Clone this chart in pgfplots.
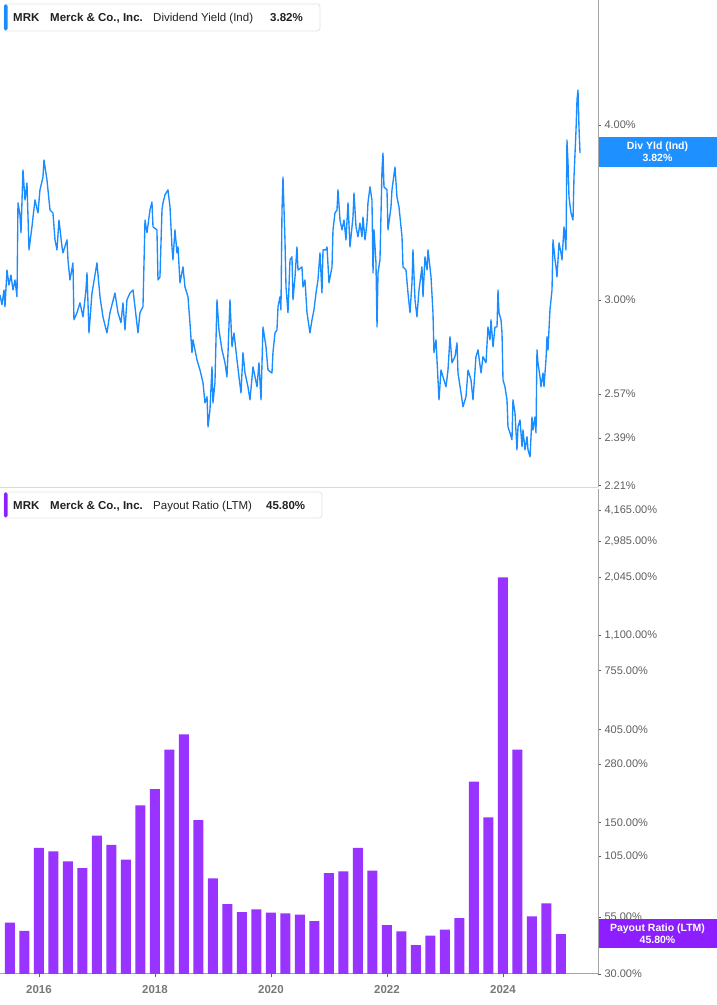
\documentclass[border=0pt]{standalone}
\usepackage{pgfplots}
\pgfplotsset{compat=1.18}
\usepackage{fontspec}
\setmainfont{Liberation Sans}
\definecolor{lineblue}{RGB}{26,140,255}
\definecolor{badgeblue}{RGB}{30,144,255}
\definecolor{barpurple}{RGB}{153,51,255}
\definecolor{badgepurple}{RGB}{140,30,255}
\definecolor{axgray}{RGB}{165,165,165}
\definecolor{tickgray}{RGB}{95,95,95}
\definecolor{yeargray}{RGB}{120,120,120}
\definecolor{txt}{RGB}{34,34,34}

\pgfplotstableread{
x y
2015.328 3.024
2015.362 2.976
2015.397 3.049
2015.414 2.966
2015.448 3.151
2015.483 3.074
2015.517 3.125
2015.552 3.049
2015.586 3.100
2015.621 3.015
2015.638 3.519
2015.672 3.450
2015.690 3.350
2015.724 3.715
2015.759 3.536
2015.793 3.636
2015.828 3.257
2015.879 3.383
2015.931 3.536
2015.983 3.461
2016.017 3.595
2016.069 3.672
2016.086 3.776
2016.138 3.654
2016.190 3.478
2016.241 3.461
2016.276 3.311
2016.310 3.257
2016.345 3.421
2016.397 3.273
2016.414 3.241
2016.483 3.311
2016.500 3.204
2016.534 3.100
2016.586 3.188
2016.603 2.903
2016.655 2.937
2016.707 2.985
2016.759 2.917
2016.810 3.049
2016.828 3.136
2016.862 2.841
2016.914 3.034
2017.000 3.188
2017.052 3.015
2017.103 2.917
2017.172 2.841
2017.224 2.937
2017.310 3.034
2017.362 2.937
2017.414 2.889
2017.448 2.985
2017.483 2.855
2017.517 3.000
2017.569 3.034
2017.621 3.049
2017.655 2.966
2017.707 2.841
2017.741 2.937
2017.793 2.966
2017.828 3.421
2017.862 3.350
2017.914 3.478
2017.948 3.524
2017.966 3.383
2018.034 3.366
2018.052 3.100
2018.086 3.115
2018.121 3.478
2018.138 3.519
2018.172 3.565
2018.224 3.595
2018.259 3.495
2018.293 3.273
2018.310 3.204
2018.345 3.366
2018.379 3.241
2018.397 3.273
2018.431 3.085
2018.483 3.167
2018.517 3.064
2018.569 3.015
2018.603 2.889
2018.638 2.750
2018.655 2.809
2018.724 2.718
2018.776 2.673
2018.828 2.617
2018.862 2.532
2018.897 2.558
2018.914 2.434
2018.948 2.503
2018.983 2.687
2019.000 2.532
2019.034 2.617
2019.069 3.000
2019.103 2.855
2019.155 2.763
2019.207 2.705
2019.241 2.643
2019.259 2.750
2019.293 3.000
2019.328 2.777
2019.362 2.841
2019.414 2.718
2019.448 2.643
2019.483 2.574
2019.517 2.750
2019.552 2.660
2019.603 2.600
2019.638 2.545
2019.690 2.687
2019.759 2.600
2019.793 2.705
2019.828 2.545
2019.862 2.869
2019.914 2.777
2019.948 2.673
2020.017 2.660
2020.034 2.750
2020.069 2.841
2020.103 2.855
2020.121 2.966
2020.155 3.015
2020.172 2.951
2020.190 3.478
2020.207 3.672
2020.241 3.311
2020.259 3.064
2020.293 2.937
2020.328 3.204
2020.362 3.220
2020.379 3.000
2020.414 3.115
2020.448 3.273
2020.466 3.151
2020.534 3.167
2020.552 3.064
2020.586 3.100
2020.621 2.937
2020.672 2.841
2020.707 2.903
2020.741 2.951
2020.776 3.034
2020.810 3.100
2020.845 3.241
2020.879 3.034
2020.897 3.257
2020.948 3.257
2020.966 3.273
2021.000 3.085
2021.052 3.167
2021.069 3.366
2021.103 3.461
2021.138 3.478
2021.155 3.595
2021.190 3.421
2021.224 3.366
2021.259 3.421
2021.293 3.311
2021.328 3.519
2021.362 3.273
2021.414 3.438
2021.431 3.577
2021.466 3.383
2021.500 3.328
2021.534 3.404
2021.569 3.328
2021.586 3.438
2021.621 3.311
2021.655 3.404
2021.672 3.519
2021.707 3.613
2021.741 3.536
2021.759 3.136
2021.776 3.366
2021.810 3.188
2021.828 2.869
2021.845 3.136
2021.879 3.204
2021.914 3.715
2021.931 3.820
2021.948 3.613
2022.000 3.595
2022.017 3.366
2022.069 3.495
2022.086 3.595
2022.138 3.733
2022.172 3.553
2022.207 3.495
2022.259 3.328
2022.276 3.167
2022.328 3.151
2022.362 3.034
2022.397 2.937
2022.431 3.085
2022.448 3.257
2022.483 3.000
2022.517 2.917
2022.552 3.049
2022.603 3.167
2022.621 3.015
2022.655 3.220
2022.690 3.151
2022.707 3.257
2022.759 3.115
2022.793 2.937
2022.810 2.750
2022.845 2.809
2022.862 2.718
2022.897 2.545
2022.931 2.673
2022.966 2.643
2023.017 2.600
2023.052 2.673
2023.086 2.823
2023.121 2.705
2023.172 2.732
2023.207 2.795
2023.224 2.660
2023.276 2.574
2023.310 2.516
2023.362 2.558
2023.397 2.673
2023.448 2.630
2023.483 2.545
2023.534 2.732
2023.569 2.763
2023.621 2.660
2023.655 2.732
2023.707 2.705
2023.741 2.869
2023.776 2.809
2023.793 2.903
2023.828 2.777
2023.862 2.869
2023.897 2.869
2023.914 3.049
2023.931 2.937
2023.966 2.903
2023.983 2.841
2024.000 2.630
2024.034 2.600
2024.069 2.545
2024.086 2.434
2024.121 2.410
2024.155 2.383
2024.172 2.545
2024.207 2.491
2024.241 2.344
2024.259 2.434
2024.293 2.462
2024.328 2.356
2024.345 2.422
2024.379 2.344
2024.414 2.395
2024.431 2.344
2024.466 2.317
2024.500 2.474
2024.517 2.422
2024.552 2.474
2024.569 2.410
2024.586 2.763
2024.603 2.705
2024.638 2.643
2024.655 2.600
2024.690 2.660
2024.707 2.600
2024.741 2.718
2024.759 2.823
2024.776 2.763
2024.810 2.951
2024.845 3.049
2024.862 3.311
2024.897 3.204
2024.914 3.167
2024.931 3.115
2024.966 3.295
2025.000 3.241
2025.017 3.204
2025.052 3.383
2025.086 3.257
2025.103 3.903
2025.121 3.758
2025.138 3.553
2025.172 3.461
2025.207 3.421
2025.224 3.672
2025.259 3.967
2025.276 4.168
2025.293 4.237
2025.310 3.987
2025.328 3.820
}\yieldtable

\pgfplotstableread{
x y
2015.50 51.8
2015.75 47.4
2016.00 114.6
2016.25 110.6
2016.50 99.5
2016.75 92.6
2017.00 130.6
2017.25 118.3
2017.50 101.2
2017.75 180.4
2018.00 214.6
2018.25 326
2018.50 384
2018.75 154.3
2019.00 83.0
2019.25 63.0
2019.50 58.0
2019.75 59.7
2020.00 57.6
2020.25 57.2
2020.50 56.4
2020.75 52.7
2021.00 87.8
2021.25 89.4
2021.50 114.6
2021.75 90.0
2022.00 50.4
2022.25 47.2
2022.50 40.8
2022.75 45.1
2023.00 48.1
2023.25 54.4
2023.50 232
2023.75 158.8
2024.00 2039
2024.25 326
2024.50 55.4
2024.75 63.6
2025.00 45.8
}\payouttable

\begin{document}
\begin{tikzpicture}
\useasboundingbox (0pt,0pt) rectangle (717pt,1005pt);
\fill[white] (0pt,0pt) rectangle (717pt,1005pt);

\begin{axis}[
  at={(0pt,1005pt)}, anchor=north west, scale only axis,
  width=598pt, height=487pt,
  xmin=2015.328, xmax=2025.638,
  ymode=log, ymin=2.205, ymax=4.913,
  axis x line*=bottom, axis y line*=right,
  x axis line style={-, draw=gray!30, line width=0.8pt},
  y axis line style={-, draw=axgray, line width=1pt},
  xtick=\empty,
  ytick={2.21,2.39,2.57,3,4},
  yticklabels={2.21\%,2.39\%,2.57\%,3.00\%,4.00\%},
  yminorticks=false,
  tick align=outside, major tick length=3pt,
  tick style={draw=tickgray, line width=0.6pt},
  yticklabel style={font=\fontsize{11}{13}\selectfont, text=tickgray},
  clip=true,
]
\addplot[lineblue, line width=1.35pt, line join=round] table[x=x, y=y] {\yieldtable};
\end{axis}

\begin{axis}[
  at={(0pt,516pt)}, anchor=north west, scale only axis,
  width=598pt, height=485pt,
  xmin=2015.328, xmax=2025.638,
  ymode=log, ymin=30, ymax=5217,
  axis x line*=bottom, axis y line*=right,
  x axis line style={-, draw=axgray, line width=1pt},
  y axis line style={-, draw=axgray, line width=1pt},
  xtick={2016,2018,2020,2022,2024},
  xticklabels={2016,2018,2020,2022,2024},
  xticklabel style={font=\bfseries\fontsize{11.5}{13}\selectfont, text=yeargray, yshift=-5pt},
  ytick={30,45,55,105,150,280,405,755,1100,2045,2985,4165},
  yticklabels={30.00\%,{},55.00\%,105.00\%,150.00\%,280.00\%,405.00\%,755.00\%,{1,100.00\%},{2,045.00\%},{2,985.00\%},{4,165.00\%}},
  yminorticks=false,
  tick align=outside, major tick length=3pt,
  tick style={draw=tickgray, line width=0.6pt},
  yticklabel style={font=\fontsize{11}{13}\selectfont, text=tickgray},
  ybar, bar width=10pt,
  clip=true,
]
\addplot[fill=barpurple, draw=none] table[x=x, y=y] {\payouttable};
\end{axis}

% legends
\draw[gray!22, fill=white, rounded corners=3pt, line width=0.8pt] (4pt,974pt) rectangle (320pt,1001pt);
\fill[lineblue, rounded corners=1.5pt] (4pt,974.5pt) rectangle (7.5pt,1000.5pt);
\node[anchor=base west, inner sep=0pt, font=\bfseries\fontsize{11.5}{13}\selectfont, text=txt] at (13pt,983pt) {MRK};
\node[anchor=base west, inner sep=0pt, font=\bfseries\fontsize{11.5}{13}\selectfont, text=txt] at (50pt,983pt) {Merck \& Co., Inc.};
\node[anchor=base west, inner sep=0pt, font=\fontsize{11.5}{13}\selectfont, text=txt] at (153pt,983pt) {Dividend Yield (Ind)};
\node[anchor=base west, inner sep=0pt, font=\bfseries\fontsize{11.5}{13}\selectfont, text=txt] at (270pt,983pt) {3.82\%};

\draw[gray!22, fill=white, rounded corners=3pt, line width=0.8pt] (4pt,487pt) rectangle (322pt,513pt);
\fill[badgepurple, rounded corners=1.5pt] (4pt,487.5pt) rectangle (7.5pt,512.5pt);
\node[anchor=base west, inner sep=0pt, font=\bfseries\fontsize{11.5}{13}\selectfont, text=txt] at (13pt,495.5pt) {MRK};
\node[anchor=base west, inner sep=0pt, font=\bfseries\fontsize{11.5}{13}\selectfont, text=txt] at (50pt,495.5pt) {Merck \& Co., Inc.};
\node[anchor=base west, inner sep=0pt, font=\fontsize{11.5}{13}\selectfont, text=txt] at (153pt,495.5pt) {Payout Ratio (LTM)};
\node[anchor=base west, inner sep=0pt, font=\bfseries\fontsize{11.5}{13}\selectfont, text=txt] at (266pt,495.5pt) {45.80\%};

% badges
\fill[badgeblue] (598.5pt,838pt) rectangle (717pt,868pt);
\node[anchor=center, inner sep=0pt, font=\bfseries\fontsize{10.5}{12}\selectfont, text=white] at (657.5pt,858.5pt) {Div Yld (Ind)};
\node[anchor=center, inner sep=0pt, font=\bfseries\fontsize{10.5}{12}\selectfont, text=white] at (657.5pt,847pt) {3.82\%};
\fill[badgepurple] (598.5pt,57pt) rectangle (717pt,86pt);
\node[anchor=center, inner sep=0pt, font=\bfseries\fontsize{10.5}{12}\selectfont, text=white] at (657.5pt,76.5pt) {Payout Ratio (LTM)};
\node[anchor=center, inner sep=0pt, font=\bfseries\fontsize{10.5}{12}\selectfont, text=white] at (657.5pt,65pt) {45.80\%};
\end{tikzpicture}
\end{document}
